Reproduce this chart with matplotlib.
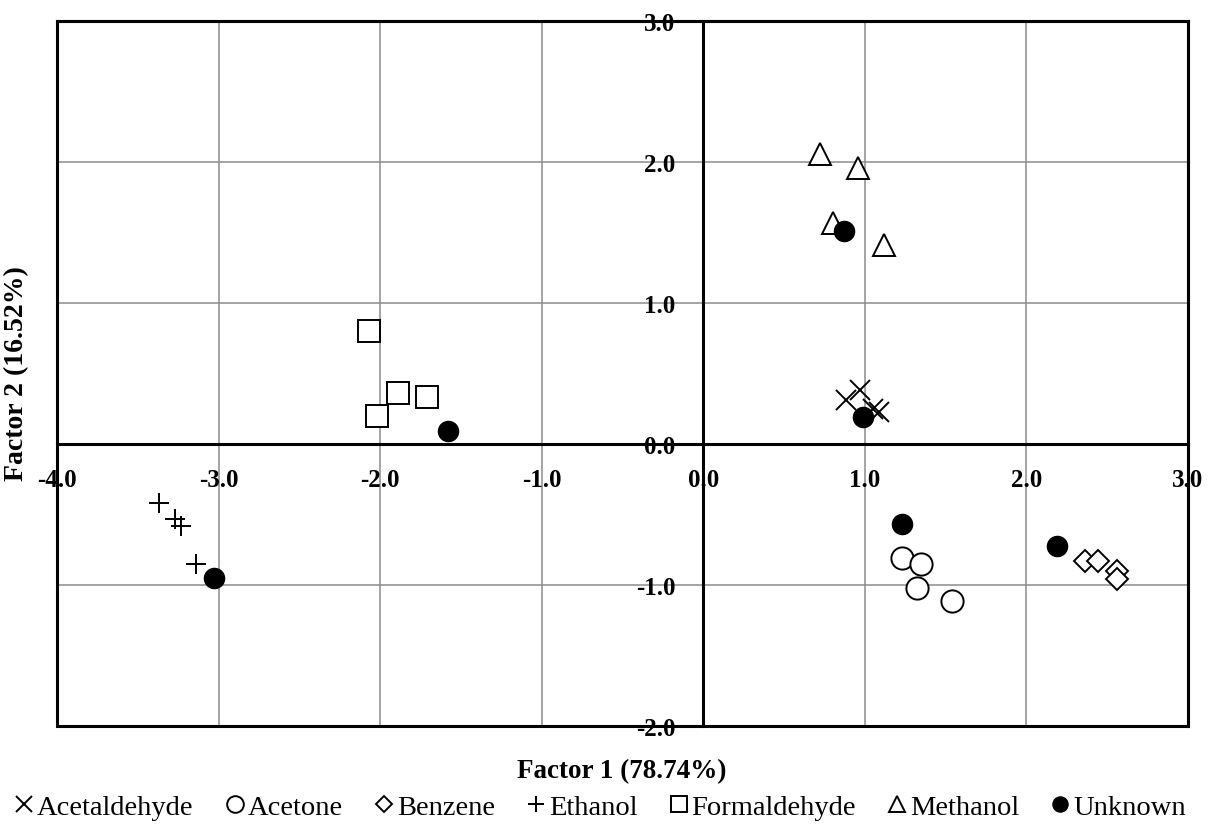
"""
Factor score plot (Factor 1 vs Factor 2) for the volatile compounds.
"""

import matplotlib
matplotlib.use("Agg")
import matplotlib.pyplot as plt
from matplotlib.patches import Rectangle

# --- DATA ---
acetaldehyde_x = [0.88, 0.97, 1.05, 1.09]
acetaldehyde_y = [0.31, 0.385, 0.25, 0.23]

acetone_x = [1.23, 1.35, 1.32, 1.54]
acetone_y = [-0.81, -0.85, -1.02, -1.11]

benzene_x = [2.36, 2.44, 2.56, 2.56]
benzene_y = [-0.83, -0.83, -0.90, -0.96]

ethanol_x = [-3.37, -3.27, -3.23, -3.14]
ethanol_y = [-0.42, -0.53, -0.58, -0.85]

formaldehyde_x = [-2.07, -2.02, -1.89, -1.71]
formaldehyde_y = [0.80, 0.20, 0.36, 0.33]

methanol_x = [0.72, 0.955, 0.80, 1.12]
methanol_y = [2.06, 1.96, 1.57, 1.41]

unknown_x = [-3.03, -1.58, 0.87, 0.99, 1.23, 2.19]
unknown_y = [-0.95, 0.09, 1.51, 0.19, -0.57, -0.72]

x_ticks = [-4, -3, -2, -1, 0, 1, 2, 3]
y_ticks = [-2, -1, 0, 1, 2, 3]

x_label = "Factor 1 (78.74%)"
y_label = "Factor 2 (16.52%)"

# --- STYLE ---
plt.rcParams["font.family"] = ["Liberation Serif", "DejaVu Serif"]

fig = plt.figure(figsize=(12.16, 8.29), dpi=100)
ax = fig.add_axes([0.0469, 0.123, 0.9301, 0.8505])

series = [
    ("Acetaldehyde", acetaldehyde_x, acetaldehyde_y, dict(marker="x", ms=15, mew=1.4, color="black")),
    ("Acetone", acetone_x, acetone_y, dict(marker="o", ms=16, mew=1.4, mec="black", mfc="white")),
    ("Benzene", benzene_x, benzene_y, dict(marker="D", ms=11.5, mew=1.4, mec="black", mfc="white")),
    ("Ethanol", ethanol_x, ethanol_y, dict(marker="+", ms=15, mew=1.4, color="black")),
    ("Formaldehyde", formaldehyde_x, formaldehyde_y, dict(marker="s", ms=16, mew=1.4, mec="black", mfc="white")),
    ("Methanol", methanol_x, methanol_y, dict(marker="^", ms=16, mew=1.4, mec="black", mfc="white")),
    ("Unknown", unknown_x, unknown_y, dict(marker="o", ms=14.5, mew=1, mec="black", mfc="black")),
]

for name, xs, ys, style in series:
    ax.plot(xs, ys, linestyle="none", label=name, zorder=4, **style)

ax.set_xlim(-4, 3)
ax.set_ylim(-2, 3)
ax.set_xticks(x_ticks)
ax.set_yticks(y_ticks)
ax.set_xticklabels([f"{v:.1f}" for v in x_ticks])
ax.set_yticklabels([f"{v:.1f}" for v in y_ticks])

ax.grid(True, color="#8c8c8c", linewidth=1.1)
ax.set_axisbelow(True)

# axes through the origin
ax.spines["left"].set_position(("data", 0))
ax.spines["bottom"].set_position(("data", 0))
for side in ["left", "bottom", "top", "right"]:
    ax.spines[side].set_linewidth(2.2)
    ax.spines[side].set_color("black")

# outer frame for the left and bottom edges
ax.add_patch(Rectangle((0, 0), 1, 1, transform=ax.transAxes, fill=False,
                       linewidth=2.2, edgecolor="black", clip_on=False, zorder=5))

ax.tick_params(axis="both", length=0, labelsize=18)
ax.tick_params(axis="x", pad=17)
ax.tick_params(axis="y", pad=20)
for lbl in ax.get_xticklabels() + ax.get_yticklabels():
    lbl.set_fontweight("bold")

fig.text(0.5115, 0.069, x_label, ha="center", va="center",
         fontsize=19.5, fontweight="bold")
fig.text(0.0135, 0.549, y_label, ha="center", va="center",
         fontsize=20, fontweight="bold", rotation=90)

fig.legend(loc="center", bbox_to_anchor=(0.4934, 0.025), ncol=7,
           frameon=False, fontsize=20.5, markerscale=0.75,
           handlelength=0.7, handletextpad=0.1, columnspacing=1.1,
           borderaxespad=0)

fig.savefig("out.png", dpi=100)
